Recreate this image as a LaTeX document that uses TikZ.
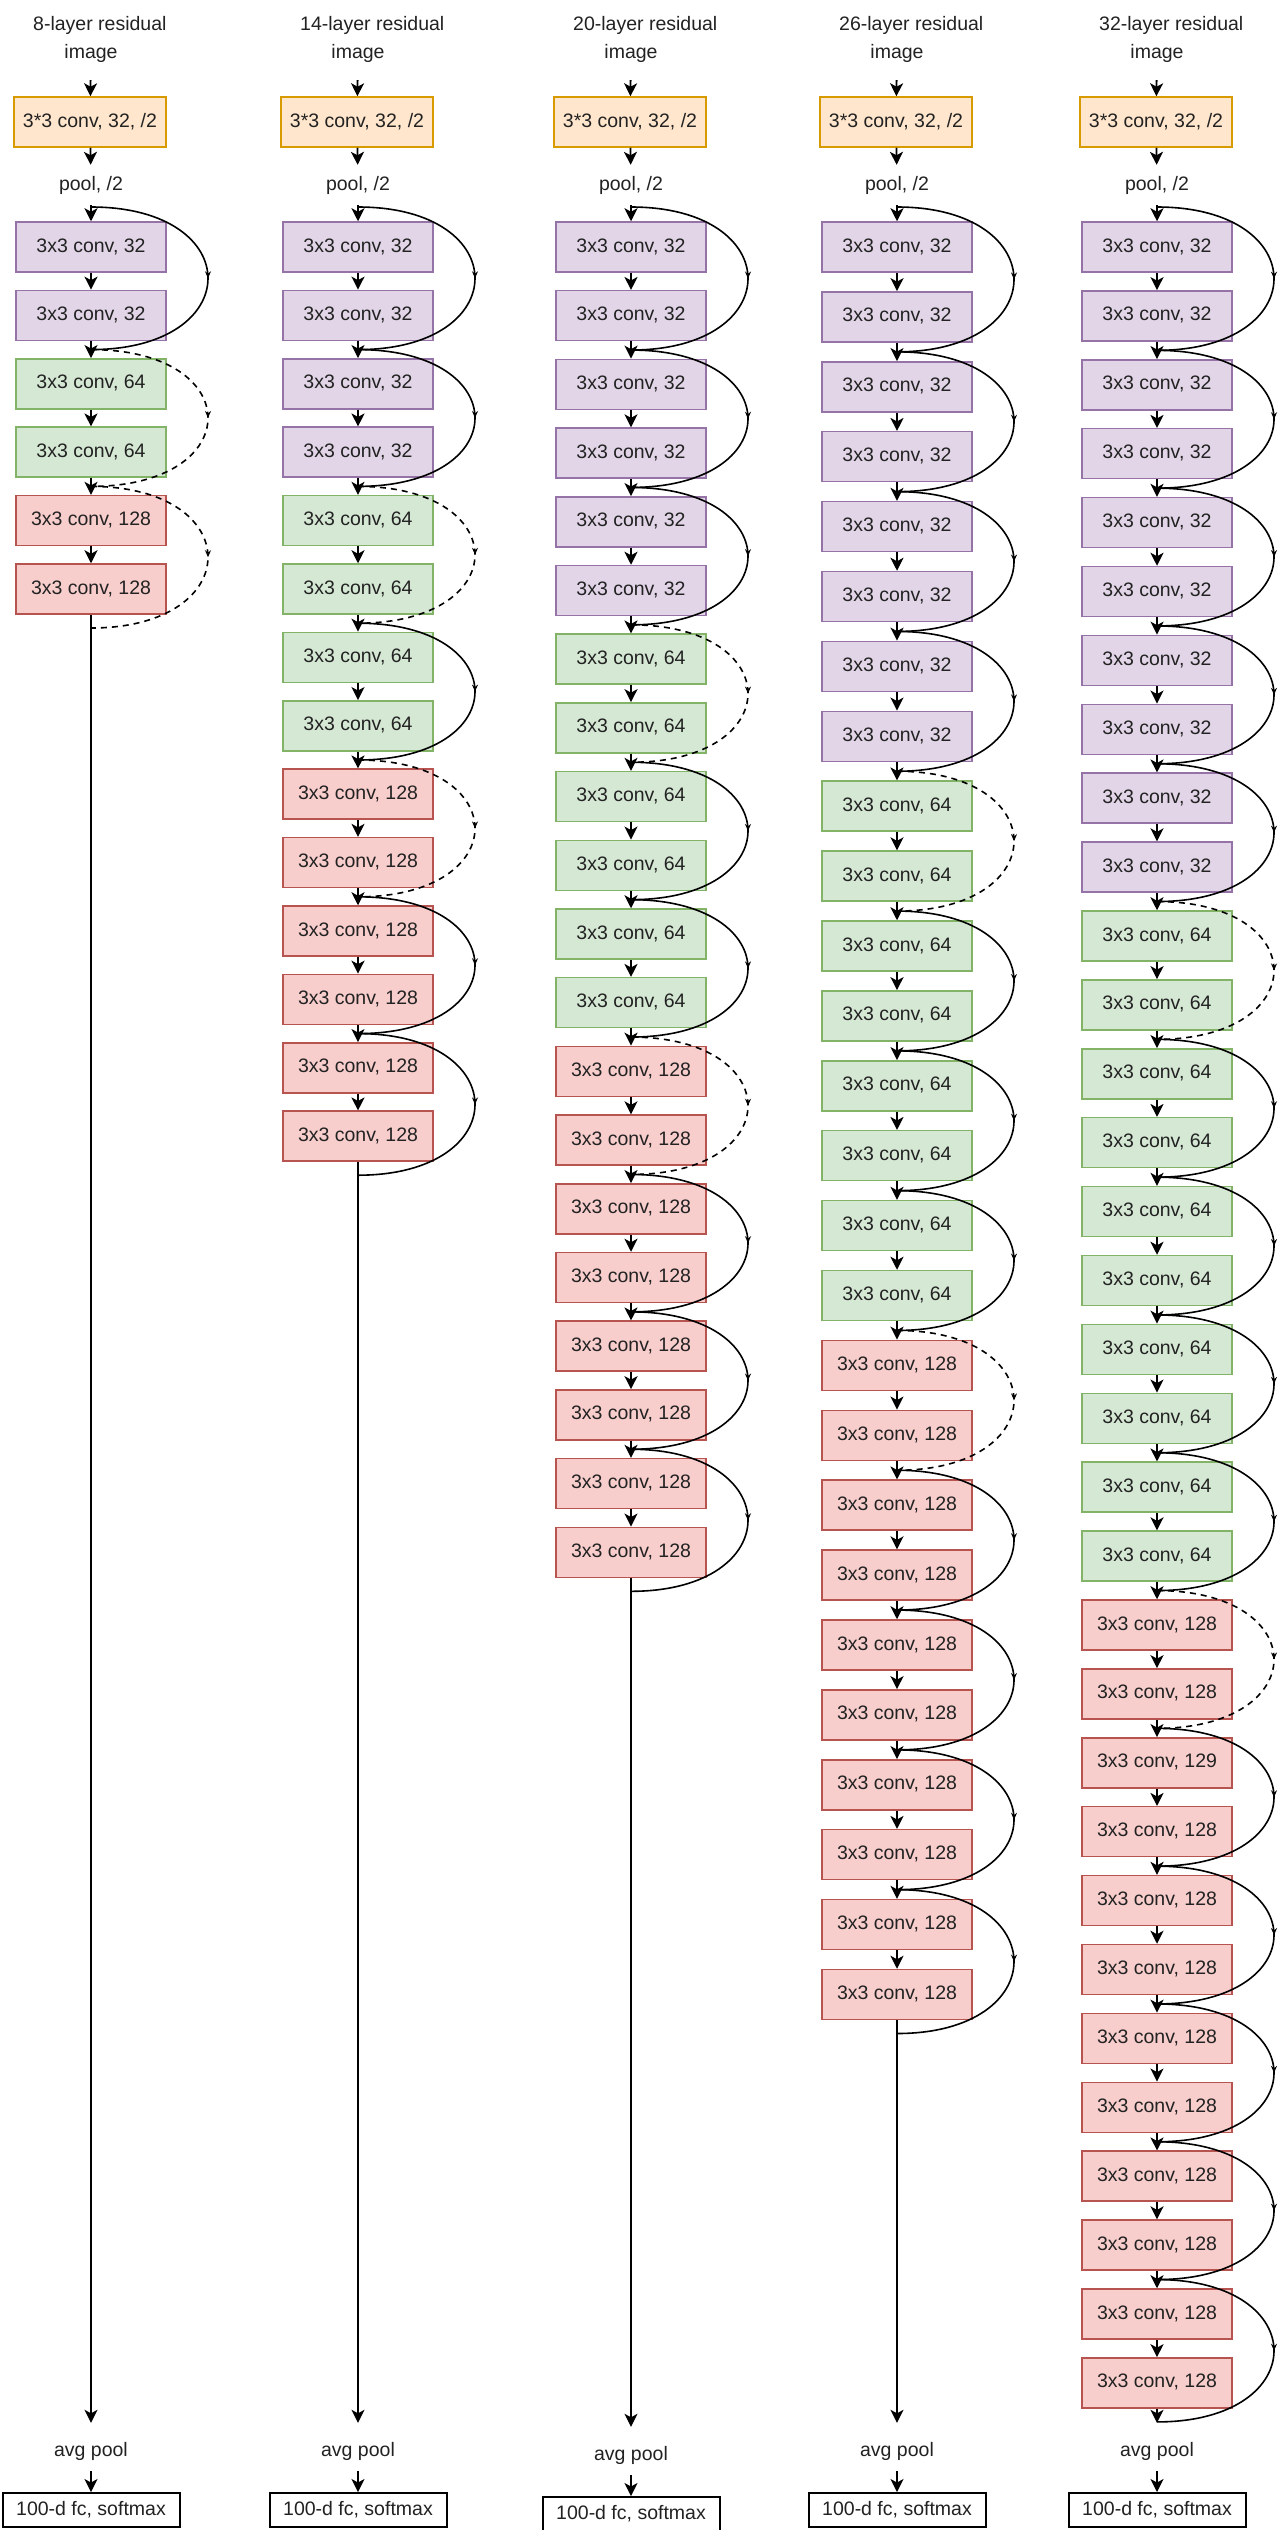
\documentclass[tikz,border=0pt]{standalone}
\usepackage{fontspec}
\setmainfont{Liberation Sans}
\usetikzlibrary{arrows.meta,decorations.markings}

\definecolor{convfill}{HTML}{FFE6CC}\definecolor{convline}{HTML}{D79B00}
\definecolor{pfill}{HTML}{E1D5E7}\definecolor{pline}{HTML}{9673A6}
\definecolor{gfill}{HTML}{D5E8D4}\definecolor{gline}{HTML}{82B366}
\definecolor{rfill}{HTML}{F8CECC}\definecolor{rline}{HTML}{B85450}
\definecolor{ink}{HTML}{222222}

\tikzset{
  lbl/.style={font=\fontsize{19.5}{22}\selectfont, text=ink, inner xsep=0pt,
              inner ysep=0pt, text height=14pt, text depth=4pt},
  txtlbl/.style={lbl, inner ysep=11pt},
  unit/.style={lbl, draw, line width=1.5pt, minimum width=150pt, minimum height=50pt},
  stembox/.style={unit, fill=convfill, draw=convline, minimum width=152pt},
  l32/.style={unit, fill=pfill, draw=pline},
  l64/.style={unit, fill=gfill, draw=gline},
  l128/.style={unit, fill=rfill, draw=rline},
  fcbox/.style={lbl, draw=black, line width=2pt, minimum width=177pt, minimum height=34pt},
  flow/.style={line width=1.8pt, -{Stealth[length=13pt,width=13pt,inset=3.5pt]}},
  resid/.style={line width=1.6pt, postaction={decorate},
    decoration={markings, mark=at position 0.5 with {\arrow{Stealth[length=7pt,width=6pt]}}}},
  projskip/.style={resid, dash pattern=on 6pt off 5pt},
}

\begin{document}
\begin{tikzpicture}[x=1pt,y=-1pt]
\useasboundingbox (0,0) rectangle (1280,2530);
\fill[white] (0,0) rectangle (1280,2530);

% one column per network: index / centre x / box pitch / blocks of 32, 64, 128 / depth / vertical offset of the head
\foreach \col/\cx/\pitch/\npb/\ngb/\nrb/\nlay/\yoff in
  {1/91/68.4/1/1/1/8/0, 2/358/68.4/2/2/3/14/0, 3/631/68.7/3/3/4/20/4,
   4/897/69.9/4/4/5/26/0, 5/1157/68.9/5/5/6/32/0}{
  \pgfmathtruncatemacro\nb{\npb+\ngb+\nrb}
  \pgfmathtruncatemacro\nl{2*\nb-1}
  \pgfmathtruncatemacro\nbm{\nb-1}
  \pgfmathtruncatemacro\ga{\npb}
  \pgfmathtruncatemacro\gb{\npb+\ngb}

  % input stage
  \node[lbl, anchor=west] (title\col) at (\cx-58,25) {\nlay-layer residual};
  \node[txtlbl, inner ysep=18pt] (img\col) at (\cx,53) {image};
  \node[stembox] (stem\col) at (\cx-1,122) {3*3 conv, 32, /2};
  \node[txtlbl] (pool\col) at (\cx,185) {pool, /2};
  \draw[flow] (img\col) -- (stem\col);
  \draw[flow] (stem\col) -- (pool\col);

  % stacked convolution layers
  \foreach \kk in {0,...,\nl}{
    \pgfmathtruncatemacro\blk{floor(\kk/2)}
    \ifnum\blk<\ga \def\sty{l32}\def\txt{3x3 conv, 32}%
    \else\ifnum\blk<\gb \def\sty{l64}\def\txt{3x3 conv, 64}%
    \else \def\sty{l128}\def\txt{3x3 conv, 128}\fi\fi
    \ifnum\col=5 \ifnum\kk=22 \def\txt{3x3 conv, 129}\fi\fi
    \node[\sty] (b\col-\kk) at (\cx,247+\pitch*\kk) {\txt};
    \ifnum\kk>0
      \pgfmathtruncatemacro\km{\kk-1}
      \draw[flow] (b\col-\km) -- (b\col-\kk);
    \fi
  }
  \draw[flow] (pool\col) -- (b\col-0);

  % shortcut connections around every pair of layers
  \foreach \jj in {0,...,\nbm}{
    \pgfmathsetmacro\ys{\jj==0 ? 207 : 247+\pitch*2*\jj-\pitch/2}
    \pgfmathsetmacro\ye{\jj==\nbm ? 247+\pitch*(2*\jj+1)+39 : 247+\pitch*(2*\jj+1)+\pitch/2}
    \def\curve{resid}
    \ifnum\jj=\ga \def\curve{projskip}\fi
    \ifnum\jj=\gb \def\curve{projskip}\fi
    \coordinate (s\col-\jj) at (\cx,\ys);
    \coordinate (e\col-\jj) at (\cx,\ye);
    \draw[\curve] (s\col-\jj) .. controls +(156,0) and +(156,0) .. (e\col-\jj);
  }

  % classifier head
  \node[txtlbl] (avg\col) at (\cx,2451+\yoff) {avg pool};
  \node[fcbox] (fc\col) at (\cx,2510+\yoff) {100-d fc, softmax};
  \draw[flow, shorten >=8pt] (b\col-\nl) -- (avg\col);
  \draw[flow] (avg\col) -- (fc\col);
}
\end{tikzpicture}
\end{document}
